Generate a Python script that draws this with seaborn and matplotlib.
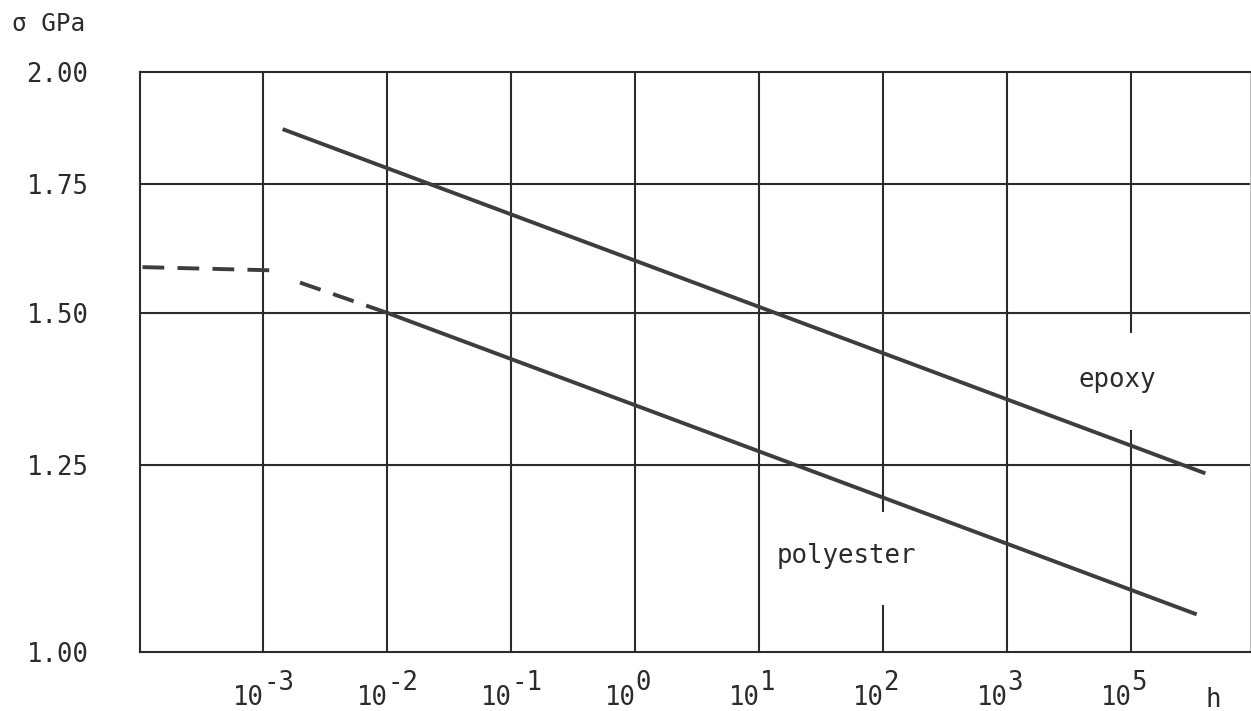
import matplotlib
matplotlib.use("Agg")
import matplotlib.pyplot as plt
import matplotlib.ticker as mticker
import seaborn as sns

# Decade positions on the time axis (log10 of hours, as laid out on the axis)
tick_pos = [-3, -2, -1, 0, 1, 2, 3, 4]
tick_exponents = ["-3", "-2", "-1", "0", "1", "2", "3", "5"]

# Strength axis (GPa)
y_ticks = [1.00, 1.25, 1.50, 1.75, 2.00]
y_labels = ["1.00", "1.25", "1.50", "1.75", "2.00"]

# Epoxy: straight decay line
epoxy_logh = [-2.84, 4.60]
epoxy_sigma = [1.868, 1.238]

# Polyester: short-time plateau (dashed), transition (dashed), decay (solid)
poly_plateau_logh = [-3.97, -2.93]
poly_plateau_sigma = [1.584, 1.578]
poly_trans_logh = [-2.70, -2.00]
poly_trans_sigma = [1.555, 1.500]
poly_logh = [-2.00, 4.53]
poly_sigma = [1.500, 1.046]

sns.set_theme(style="white")
plt.rcParams["font.family"] = ["DejaVu Sans Mono", "DejaVu Sans"]

ink = "#2b2b2b"
curve = "#3d3d3d"
grid_lw = 1.5
curve_lw = 2.8
fs = 18.5

fig = plt.figure(figsize=(12.51, 7.11), dpi=100)
ax = fig.add_axes([140 / 1251, 1 - 652 / 711, 1110 / 1251, (652 - 72) / 711])

ax.set_yscale("log")
ax.set_xlim(-3.99, 4.96)
ax.set_ylim(1.0, 2.0)

# Grid: horizontal lines and vertical decade lines (two broken for labels)
for yv in y_ticks[1:-1]:
    ax.axhline(yv, color=ink, lw=grid_lw, zorder=1)
gaps = {2: (1.058, 1.182), 4: (1.304, 1.464)}
for xp in tick_pos:
    if xp in gaps:
        lo, hi = gaps[xp]
        ax.vlines(xp, 1.0, lo, color=ink, lw=grid_lw, zorder=1)
        ax.vlines(xp, hi, 2.0, color=ink, lw=grid_lw, zorder=1)
    else:
        ax.vlines(xp, 1.0, 2.0, color=ink, lw=grid_lw, zorder=1)

dash = (0, (5.6, 3.4))
sns.lineplot(x=epoxy_logh, y=epoxy_sigma, ax=ax, color=curve, lw=curve_lw,
             solid_capstyle="butt", zorder=3)
sns.lineplot(x=poly_plateau_logh, y=poly_plateau_sigma, ax=ax, color=curve,
             lw=curve_lw, linestyle=dash, dash_capstyle="butt", zorder=3)
sns.lineplot(x=poly_trans_logh, y=poly_trans_sigma, ax=ax, color=curve,
             lw=curve_lw, linestyle=dash, dash_capstyle="butt", zorder=3)
sns.lineplot(x=poly_logh, y=poly_sigma, ax=ax, color=curve, lw=curve_lw,
             solid_capstyle="butt", zorder=3)

ax.text(3.58, 1.372, "epoxy", fontsize=fs, color=ink, va="baseline", ha="left")
ax.text(1.14, 1.112, "polyester", fontsize=fs, color=ink, va="baseline", ha="left")

# Axis ticks: y labels from the formatter, x labels written as 10 + raised exponent
ax.set_xticks(tick_pos)
ax.set_xticklabels([])
ax.yaxis.set_major_locator(mticker.FixedLocator(y_ticks))
ax.yaxis.set_major_formatter(mticker.FixedFormatter(y_labels))
ax.yaxis.set_minor_locator(mticker.NullLocator())
ax.tick_params(axis="both", length=0, labelsize=fs, colors=ink)
ax.tick_params(axis="y", pad=37)
ax.set_xlabel("")
ax.set_ylabel("")

xtrans = ax.get_xaxis_transform()
for xp, ex in zip(tick_pos, tick_exponents):
    ax.annotate("10", xy=(xp, 0), xycoords=xtrans, xytext=(0.5, -38),
                textcoords="offset points", ha="right", va="baseline",
                fontsize=fs, color=ink, annotation_clip=False)
    ax.annotate(ex, xy=(xp, 0), xycoords=xtrans, xytext=(0.5, -27.5),
                textcoords="offset points", ha="left", va="baseline",
                fontsize=fs, color=ink, annotation_clip=False)

for side in ["top", "left", "bottom"]:
    ax.spines[side].set_color(ink)
    ax.spines[side].set_linewidth(grid_lw)
ax.spines["right"].set_color("#bdbdbd")
ax.spines["right"].set_linewidth(0.8)

# Unit labels
ax.annotate("h", xy=(4.60, 0), xycoords=xtrans, xytext=(0, -39.5),
            textcoords="offset points", ha="left", va="baseline",
            fontsize=fs, color=ink, annotation_clip=False)
fig.text(12 / 1251, 1 - 24 / 711, "σ GPa", fontsize=17.5, color=ink,
         ha="left", va="center")

fig.savefig("out.png", dpi=100, facecolor="white")
